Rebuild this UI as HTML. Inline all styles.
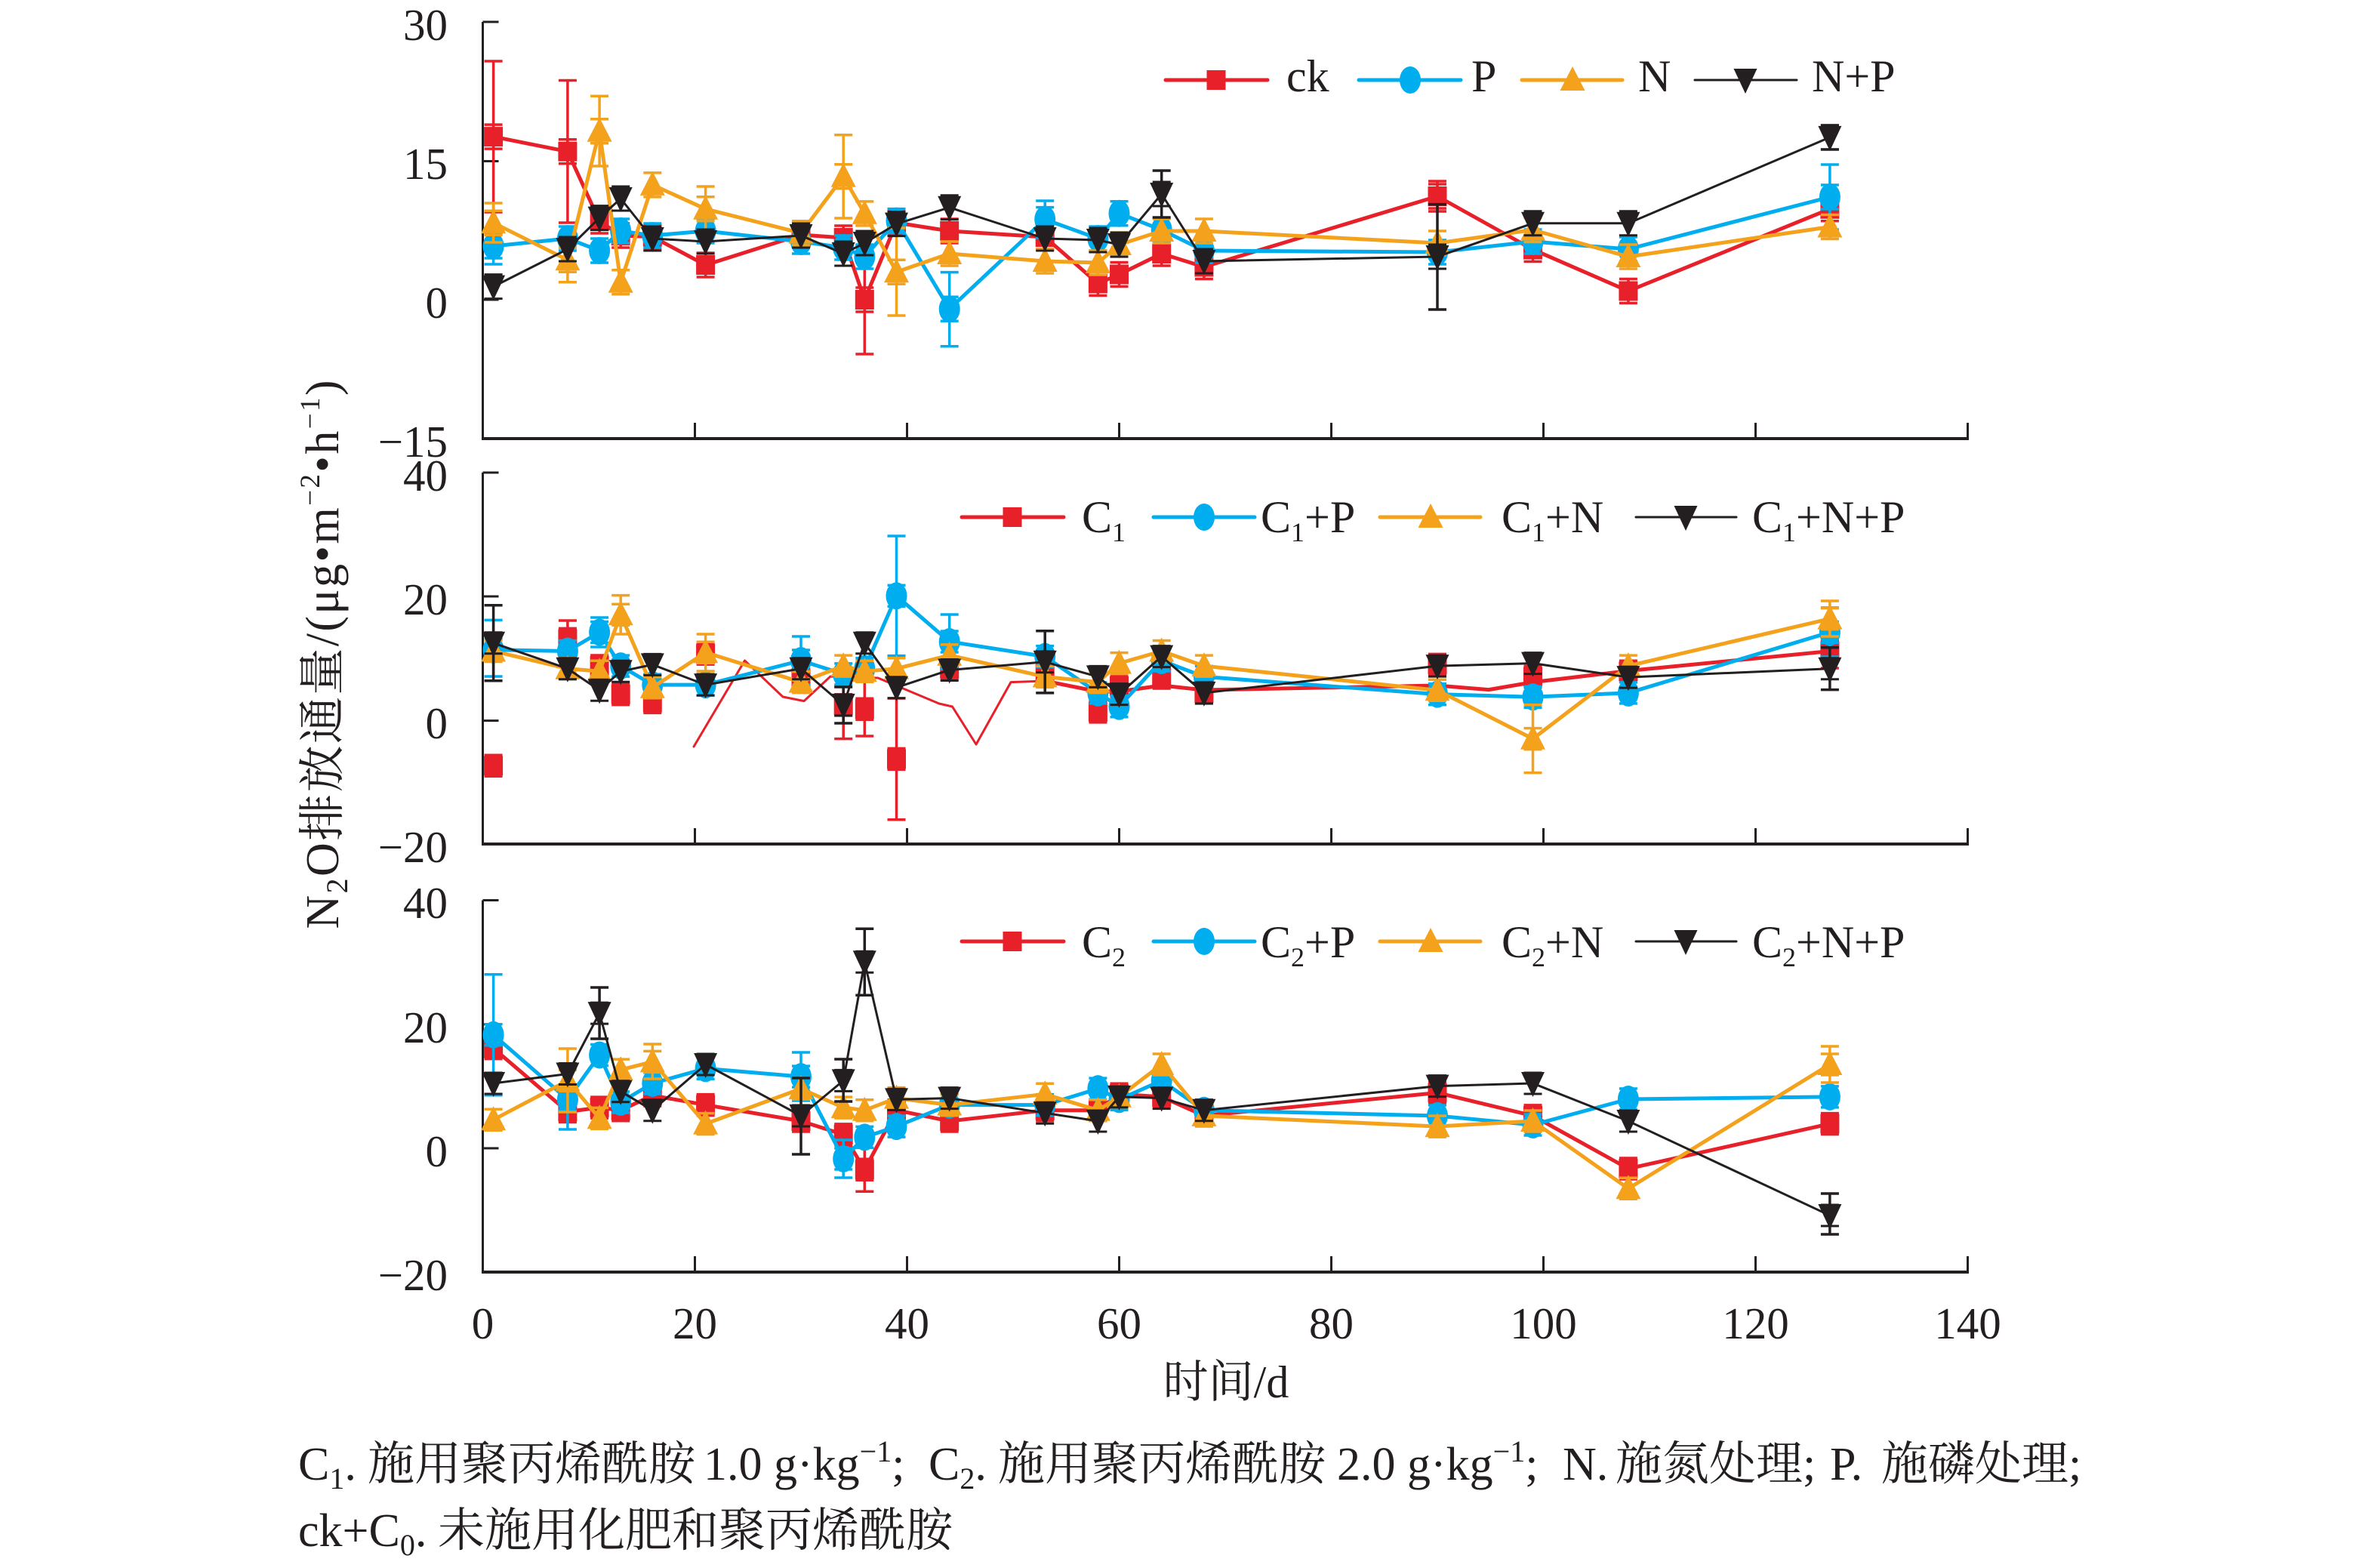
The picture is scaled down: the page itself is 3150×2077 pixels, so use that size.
<!DOCTYPE html>
<html><head><meta charset="utf-8"><style>
html,body{margin:0;padding:0;background:#fff;}
svg{display:block;}
text{font-family:"Liberation Serif","Noto Serif CJK SC",serif;fill:#231f20;}
.t{font-size:59px;}
.lg{font-size:60px;}
.ax{stroke:#231f20;fill:none;}
.n{fill:none;stroke:none;}
.l{fill:none;stroke-linejoin:round;stroke-linecap:round;}
.r{stroke:#e8202a;stroke-width:5;}
.b{stroke:#00aeef;stroke-width:5;}
.o{stroke:#f4a11c;stroke-width:5;}
.k{stroke:#231f20;stroke-width:3;}
.eb{fill:none;stroke-width:3.5;}
</style></head><body>
<svg width="3150" height="2077" viewBox="0 0 3150 2077" xmlns="http://www.w3.org/2000/svg">
<defs>
<marker id="mS" markerUnits="userSpaceOnUse" markerWidth="60" markerHeight="60" refX="30" refY="30"><rect x="17.5" y="17" width="25" height="26" fill="#e8202a"/></marker>
<marker id="mC" markerUnits="userSpaceOnUse" markerWidth="60" markerHeight="60" refX="30" refY="30"><ellipse cx="30" cy="30" rx="14" ry="18" fill="#00aeef"/></marker>
<marker id="mU" markerUnits="userSpaceOnUse" markerWidth="60" markerHeight="60" refX="30" refY="30"><polygon points="30,12 46.5,44 13.5,44" fill="#f4a11c"/></marker>
<marker id="mD" markerUnits="userSpaceOnUse" markerWidth="60" markerHeight="60" refX="30" refY="30"><polygon points="14.5,15 45.5,15 30,48" fill="#231f20"/></marker>
<marker id="eR16" markerUnits="userSpaceOnUse" markerWidth="60" markerHeight="60" refX="30" refY="30"><path d="M30,14V46M18,14H42M18,46H42" stroke="#e8202a" stroke-width="3.5" fill="none"/></marker>
<marker id="eB16" markerUnits="userSpaceOnUse" markerWidth="60" markerHeight="60" refX="30" refY="30"><path d="M30,14V46M18,14H42M18,46H42" stroke="#00aeef" stroke-width="3.5" fill="none"/></marker>
<marker id="eO16" markerUnits="userSpaceOnUse" markerWidth="60" markerHeight="60" refX="30" refY="30"><path d="M30,14V46M18,14H42M18,46H42" stroke="#f4a11c" stroke-width="3.5" fill="none"/></marker>
<marker id="eK16" markerUnits="userSpaceOnUse" markerWidth="60" markerHeight="60" refX="30" refY="30"><path d="M30,14V46M18,14H42M18,46H42" stroke="#231f20" stroke-width="3" fill="none"/></marker>
<marker id="eR14" markerUnits="userSpaceOnUse" markerWidth="60" markerHeight="60" refX="30" refY="30"><path d="M30,16V44M18,16H42M18,44H42" stroke="#e8202a" stroke-width="3.5" fill="none"/></marker>
<marker id="eB14" markerUnits="userSpaceOnUse" markerWidth="60" markerHeight="60" refX="30" refY="30"><path d="M30,16V44M18,16H42M18,44H42" stroke="#00aeef" stroke-width="3.5" fill="none"/></marker>
<marker id="eO14" markerUnits="userSpaceOnUse" markerWidth="60" markerHeight="60" refX="30" refY="30"><path d="M30,16V44M18,16H42M18,44H42" stroke="#f4a11c" stroke-width="3.5" fill="none"/></marker>
<marker id="eK14" markerUnits="userSpaceOnUse" markerWidth="60" markerHeight="60" refX="30" refY="30"><path d="M30,16V44M18,16H42M18,44H42" stroke="#231f20" stroke-width="3" fill="none"/></marker>
</defs>
<rect x="0" y="0" width="3150" height="2077" fill="#fff"/>

<!-- ===== AXES ===== -->
<g class="ax">
<path d="M639.5,29V581" stroke-width="3"/>
<path d="M638,581H2606.5" stroke-width="4"/>
<path d="M639.5,29h21M639.5,213.5h21M639.5,397h21" stroke-width="3"/>
<path d="M920.5,581v-21M1201.5,581v-21M1482.5,581v-21M1763.5,581v-21M2044.5,581v-21M2325.5,581v-21M2606.5,583v-23" stroke-width="3"/>

<path d="M639.5,626V1118" stroke-width="3"/>
<path d="M638,1118H2606.5" stroke-width="4"/>
<path d="M639.5,626h21M639.5,790h21M639.5,954.6h21" stroke-width="3"/>
<path d="M920.5,1118v-21M1201.5,1118v-21M1482.5,1118v-21M1763.5,1118v-21M2044.5,1118v-21M2325.5,1118v-21M2606.5,1120v-23" stroke-width="3"/>

<path d="M639.5,1192.5V1685" stroke-width="3"/>
<path d="M638,1685H2606.5" stroke-width="4"/>
<path d="M639.5,1192.5h21M639.5,1357h21M639.5,1521h21" stroke-width="3"/>
<path d="M920.5,1685v-21M1201.5,1685v-21M1482.5,1685v-21M1763.5,1685v-21M2044.5,1685v-21M2325.5,1685v-21M2606.5,1687v-23" stroke-width="3"/>
</g>

<!-- y tick labels -->
<g class="t" text-anchor="end">
<text x="593" y="53">30</text>
<text x="593" y="237">15</text>
<text x="593" y="421">0</text>
<text x="593" y="605">−15</text>
<text x="593" y="650">40</text>
<text x="593" y="814">20</text>
<text x="593" y="978">0</text>
<text x="593" y="1142">−20</text>
<text x="593" y="1216">40</text>
<text x="593" y="1381">20</text>
<text x="593" y="1545">0</text>
<text x="593" y="1709">−20</text>
</g>
<!-- x tick labels -->
<g class="t" text-anchor="middle">
<text x="639.5" y="1773">0</text>
<text x="920.5" y="1773">20</text>
<text x="1201.5" y="1773">40</text>
<text x="1482.5" y="1773">60</text>
<text x="1763.5" y="1773">80</text>
<text x="2044.5" y="1773">100</text>
<text x="2325.5" y="1773">120</text>
<text x="2606.5" y="1773">140</text>
</g>

<!-- axis titles -->
<text transform="translate(448,867) rotate(-90)" text-anchor="middle" font-size="62" textLength="727" lengthAdjust="spacing">N<tspan font-size="40" dy="12">2</tspan><tspan dy="-12">O排放通量/(μg•m</tspan><tspan font-size="37" dy="-25">−2</tspan><tspan dy="25">•h</tspan><tspan font-size="37" dy="-25">−1</tspan><tspan dy="25">)</tspan></text>
<text x="1624" y="1851" text-anchor="middle" font-size="60">时间/d</text>

<!-- ===== TOP PANEL DATA ===== -->
<polyline class="n" marker-start="url(#eR16)" marker-mid="url(#eR16)" marker-end="url(#eR16)" points="653.6,181.1 751.9,200.7 794.1,293 822.2,312 864.3,313.6 934.6,351 1061,311 1117.2,315 1145.3,397 1187.5,295 1257.7,306 1384.2,314 1454.4,375.5 1482.5,363.5 1538.7,336 1594.9,353.5 1904,260 2030.5,330.5 2156.9,385.5 2423.9,276.8"/>
<path class="eb" stroke="#e8202a" d="M653.6,81V281M641.6,81H665.6M641.6,281H665.6M751.9,106.5V295M739.9,106.5H763.9M739.9,295H763.9M1145.3,325V469M1133.3,325H1157.3M1133.3,469H1157.3M1904,240V280M1892,240H1916M1892,280H1916"/>
<polyline class="l r" marker-start="url(#mS)" marker-mid="url(#mS)" marker-end="url(#mS)" points="653.6,181.1 751.9,200.7 794.1,293 822.2,312 864.3,313.6 934.6,351 1061,311 1117.2,315 1145.3,397 1187.5,295 1257.7,306 1384.2,314 1454.4,375.5 1482.5,363.5 1538.7,336 1594.9,353.5 1904,260 2030.5,330.5 2156.9,385.5 2423.9,276.8"/>

<polyline class="n" marker-start="url(#eB16)" marker-mid="url(#eB16)" marker-end="url(#eB16)" points="653.6,326 751.9,316 794.1,332 822.2,306 864.3,312 934.6,306 1061,320 1117.2,328 1145.3,340 1187.5,292.6 1257.7,409.3 1384.2,290.6 1454.4,316 1482.5,282.7 1538.7,304.5 1594.9,332 1904,334 2030.5,320 2156.9,330 2423.9,261"/>
<path class="eb" stroke="#00aeef" d="M1257.7,360.6V458.7M1245.7,360.6H1269.7M1245.7,458.7H1269.7M2423.9,218V304M2411.9,218H2435.9M2411.9,304H2435.9M653.6,302V350M641.6,302H665.6M641.6,350H665.6M1384.2,266V315M1372.2,266H1396.2M1372.2,315H1396.2"/>
<polyline class="l b" marker-start="url(#mC)" marker-mid="url(#mC)" marker-end="url(#mC)" points="653.6,326 751.9,316 794.1,332 822.2,306 864.3,312 934.6,306 1061,320 1117.2,328 1145.3,340 1187.5,292.6 1257.7,409.3 1384.2,290.6 1454.4,316 1482.5,282.7 1538.7,304.5 1594.9,332 1904,334 2030.5,320 2156.9,330 2423.9,261"/>

<polyline class="n" marker-start="url(#eO16)" marker-mid="url(#eO16)" marker-end="url(#eO16)" points="653.6,295.2 751.9,344.3 794.1,173.7 822.2,373.7 864.3,244.9 934.6,276.8 1061,308.7 1117.2,233.8 1145.3,282.9 1187.5,360.2 1257.7,336 1384.2,346 1454.4,348 1482.5,324 1538.7,306 1594.9,306 1904,322 2030.5,304.5 2156.9,340 2423.9,300.5"/>
<path class="eb" stroke="#f4a11c" d="M794.1,127.3V220M782.1,127.3H806.1M782.1,220H806.1M1117.2,178.7V289M1105.2,178.7H1129.2M1105.2,289H1129.2M1187.5,302V418M1175.5,302H1199.5M1175.5,418H1199.5M653.6,269V321M641.6,269H665.6M641.6,321H665.6M751.9,315V373.7M739.9,315H763.9M739.9,373.7H763.9M934.6,247V307M922.6,247H946.6M922.6,307H946.6"/>
<polyline class="l o" marker-start="url(#mU)" marker-mid="url(#mU)" marker-end="url(#mU)" points="653.6,295.2 751.9,344.3 794.1,173.7 822.2,373.7 864.3,244.9 934.6,276.8 1061,308.7 1117.2,233.8 1145.3,282.9 1187.5,360.2 1257.7,336 1384.2,346 1454.4,348 1482.5,324 1538.7,306 1594.9,306 1904,322 2030.5,304.5 2156.9,340 2423.9,300.5"/>

<polyline class="n" marker-start="url(#eK16)" marker-mid="url(#eK16)" marker-end="url(#eK16)" points="653.6,379.6 751.9,330 794.1,288.6 822.2,263 864.3,316 934.6,320 1061,312 1117.2,336 1145.3,322 1187.5,296.6 1257.7,274.8 1384.2,316 1454.4,318 1482.5,324 1538.7,257 1594.9,346 1904,340 2030.5,295.8 2156.9,295.8 2423.9,181.9"/>
<path class="eb" stroke="#231f20" stroke-width="3" d="M1538.7,226V288M1526.7,226H1550.7M1526.7,288H1550.7M1904,270.6V410M1892,270.6H1916M1892,410H1916M2423.9,166V198M2411.9,166H2435.9M2411.9,198H2435.9"/>
<polyline class="l k" marker-start="url(#mD)" marker-mid="url(#mD)" marker-end="url(#mD)" points="653.6,379.6 751.9,330 794.1,288.6 822.2,263 864.3,316 934.6,320 1061,312 1117.2,336 1145.3,322 1187.5,296.6 1257.7,274.8 1384.2,316 1454.4,318 1482.5,324 1538.7,257 1594.9,346 1904,340 2030.5,295.8 2156.9,295.8 2423.9,181.9"/>

<!-- top legend -->
<path class="l r" d="M1544,106H1679"/>
<rect x="1598.5" y="93" width="25" height="26" fill="#e8202a"/>
<text class="lg" x="1704" y="121">ck</text>
<path class="l b" d="M1800,106H1935"/><ellipse cx="1868" cy="106" rx="14" ry="18" fill="#00aeef"/>
<text class="lg" x="1949" y="121">P</text>
<path class="l o" d="M2016,106H2149"/><polygon points="2083,88 2099.5,120 2066.5,120" fill="#f4a11c"/>
<text class="lg" x="2170" y="121">N</text>
<path class="l k" d="M2245,106H2380"/><polygon points="2296.5,91 2327.5,91 2312,124" fill="#231f20"/>
<text class="lg" x="2400" y="121">N+P</text>

<!-- ===== MIDDLE PANEL DATA ===== -->
<polyline class="n" marker-start="url(#eR14)" marker-mid="url(#eR14)" marker-end="url(#eR14)" points="653.6,1014.3 751.9,846.4 794.1,882 822.2,919.6 864.3,930.4 934.6,866.1 1061,898.2 1117.2,933.9 1145.3,939.3 1187.5,1005.4 1257.7,885.7 1384.2,892.9 1454.4,942.9 1482.5,909 1538.7,898 1594.9,917.9 1904,880.4 2030.5,896.4 2156.9,889.3 2423.9,862.5"/>
<path class="eb" stroke="#e8202a" d="M1187.5,925V1085.7M1175.5,925H1199.5M1175.5,1085.7H1199.5M1117.2,889V978.6M1105.2,889H1129.2M1105.2,978.6H1129.2M1145.3,903V975M1133.3,903H1157.3M1133.3,975H1157.3M751.9,822V870M739.9,822H763.9M739.9,870H763.9M2423.9,840V885M2411.9,840H2435.9M2411.9,885H2435.9"/>
<polyline class="l" stroke="#e8202a" stroke-width="3" points="919,989 986.5,875 1037,923 1065,928.6 1100,896 1163,898 1244,932 1261.5,936 1293,986 1339,903.6 1384,902"/>
<polyline class="l r" points="1384,902 1454,916 1482,916 1538.7,908 1594.9,914 1904,908 1972,913.6 2030.5,903.6 2156.9,888.6 2423.9,862.5"/>
<polyline class="n" marker-start="url(#mS)" marker-mid="url(#mS)" marker-end="url(#mS)" points="653.6,1014.3 751.9,846.4 794.1,882 822.2,919.6 864.3,930.4 934.6,866.1 1061,898.2 1117.2,933.9 1145.3,939.3 1187.5,1005.4 1257.7,885.7 1384.2,892.9 1454.4,942.9 1482.5,909 1538.7,898 1594.9,917.9 1904,880.4 2030.5,896.4 2156.9,889.3 2423.9,862.5"/>

<polyline class="n" marker-start="url(#eB14)" marker-mid="url(#eB14)" marker-end="url(#eB14)" points="653.6,860.7 751.9,862.5 794.1,837.5 822.2,882.1 864.3,907.1 934.6,907.1 1061,875 1117.2,892.9 1145.3,885.7 1187.5,789.3 1257.7,850 1384.2,869.6 1454.4,917.9 1482.5,935.7 1538.7,875 1594.9,896.4 1904,919.6 2030.5,923.2 2156.9,917.9 2423.9,837.5"/>
<path class="eb" stroke="#00aeef" d="M1187.5,710V868.6M1175.5,710H1199.5M1175.5,868.6H1199.5M1257.7,814V886M1245.7,814H1269.7M1245.7,886H1269.7M653.6,821.4V896M641.6,821.4H665.6M641.6,896H665.6M1061,843V907M1049,843H1073M1049,907H1073M794.1,818V857M782.1,818H806.1M782.1,857H806.1M2423.9,805V870M2411.9,805H2435.9M2411.9,870H2435.9"/>
<polyline class="l b" marker-start="url(#mC)" marker-mid="url(#mC)" marker-end="url(#mC)" points="653.6,860.7 751.9,862.5 794.1,837.5 822.2,882.1 864.3,907.1 934.6,907.1 1061,875 1117.2,892.9 1145.3,885.7 1187.5,789.3 1257.7,850 1384.2,869.6 1454.4,917.9 1482.5,935.7 1538.7,875 1594.9,896.4 1904,919.6 2030.5,923.2 2156.9,917.9 2423.9,837.5"/>

<polyline class="n" marker-start="url(#eO14)" marker-mid="url(#eO14)" marker-end="url(#eO14)" points="653.6,862.5 751.9,885.7 794.1,889.3 822.2,814.3 864.3,910.7 934.6,864.3 1061,903.6 1117.2,882.1 1145.3,889.3 1187.5,885.7 1257.7,867.9 1384.2,896.4 1454.4,903.6 1482.5,878.6 1538.7,862.5 1594.9,882.1 1904,914.3 2030.5,978.6 2156.9,882.1 2423.9,819.6"/>
<path class="eb" stroke="#f4a11c" d="M2030.5,933.6V1023.6M2018.5,933.6H2042.5M2018.5,1023.6H2042.5M822.2,788.6V840M810.2,788.6H834.2M810.2,840H834.2M2423.9,796V843M2411.9,796H2435.9M2411.9,843H2435.9M934.6,840V889M922.6,840H946.6M922.6,889H946.6"/>
<polyline class="l o" marker-start="url(#mU)" marker-mid="url(#mU)" marker-end="url(#mU)" points="653.6,862.5 751.9,885.7 794.1,889.3 822.2,814.3 864.3,910.7 934.6,864.3 1061,903.6 1117.2,882.1 1145.3,889.3 1187.5,885.7 1257.7,867.9 1384.2,896.4 1454.4,903.6 1482.5,878.6 1538.7,862.5 1594.9,882.1 1904,914.3 2030.5,978.6 2156.9,882.1 2423.9,819.6"/>

<polyline class="n" marker-start="url(#eK14)" marker-mid="url(#eK14)" marker-end="url(#eK14)" points="653.6,851.8 751.9,885.7 794.1,914.3 822.2,889.3 864.3,880.4 934.6,907.1 1061,885.7 1117.2,933.9 1145.3,851.8 1187.5,910.7 1257.7,887.5 1384.2,876.8 1454.4,896.4 1482.5,919.6 1538.7,869.6 1594.9,917.9 1904,882.1 2030.5,878.6 2156.9,897.1 2423.9,885.7"/>
<path class="eb" stroke="#231f20" stroke-width="3" d="M653.6,801.8V901.8M641.6,801.8H665.6M641.6,901.8H665.6M1384.2,835.7V917.9M1372.2,835.7H1396.2M1372.2,917.9H1396.2M2423.9,857.7V913.6M2411.9,857.7H2435.9M2411.9,913.6H2435.9M1117.2,910V958M1105.2,910H1129.2M1105.2,958H1129.2"/>
<polyline class="l k" marker-start="url(#mD)" marker-mid="url(#mD)" marker-end="url(#mD)" points="653.6,851.8 751.9,885.7 794.1,914.3 822.2,889.3 864.3,880.4 934.6,907.1 1061,885.7 1117.2,933.9 1145.3,851.8 1187.5,910.7 1257.7,887.5 1384.2,876.8 1454.4,896.4 1482.5,919.6 1538.7,869.6 1594.9,917.9 1904,882.1 2030.5,878.6 2156.9,897.1 2423.9,885.7"/>

<!-- middle legend -->
<path class="l r" d="M1274,685H1409"/><rect x="1328.5" y="672" width="25" height="26" fill="#e8202a"/>
<text class="lg" x="1433" y="705">C<tspan font-size="36" dy="12">1</tspan></text>
<path class="l b" d="M1528,685H1662"/><ellipse cx="1595" cy="685" rx="14" ry="18" fill="#00aeef"/>
<text class="lg" x="1670" y="705">C<tspan font-size="36" dy="12">1</tspan><tspan dy="-12">+P</tspan></text>
<path class="l o" d="M1828,685H1961"/><polygon points="1895,667 1911.5,699 1878.5,699" fill="#f4a11c"/>
<text class="lg" x="1989" y="705">C<tspan font-size="36" dy="12">1</tspan><tspan dy="-12">+N</tspan></text>
<path class="l k" d="M2167,685H2300"/><polygon points="2217.5,670 2248.5,670 2233,703" fill="#231f20"/>
<text class="lg" x="2321" y="705">C<tspan font-size="36" dy="12">1</tspan><tspan dy="-12">+N+P</tspan></text>

<!-- ===== BOTTOM PANEL DATA ===== -->
<polyline class="n" marker-start="url(#eR14)" marker-mid="url(#eR14)" marker-end="url(#eR14)" points="653.6,1388.6 751.9,1472.5 794.1,1467.1 822.2,1470.7 864.3,1451.1 934.6,1463.6 1061,1485 1117.2,1502.9 1145.3,1549.3 1187.5,1470.7 1257.7,1485 1384.2,1470.7 1454.4,1470.7 1482.5,1449.3 1538.7,1452.9 1594.9,1477.9 1904,1447.5 2030.5,1477.9 2156.9,1548 2423.9,1488.6"/>
<path class="eb" stroke="#e8202a" d="M1145.3,1520.3V1578.3M1133.3,1520.3H1157.3M1133.3,1578.3H1157.3"/>
<polyline class="l r" marker-start="url(#mS)" marker-mid="url(#mS)" marker-end="url(#mS)" points="653.6,1388.6 751.9,1472.5 794.1,1467.1 822.2,1470.7 864.3,1451.1 934.6,1463.6 1061,1485 1117.2,1502.9 1145.3,1549.3 1187.5,1470.7 1257.7,1485 1384.2,1470.7 1454.4,1470.7 1482.5,1449.3 1538.7,1452.9 1594.9,1477.9 1904,1447.5 2030.5,1477.9 2156.9,1548 2423.9,1488.6"/>

<polyline class="n" marker-start="url(#eB14)" marker-mid="url(#eB14)" marker-end="url(#eB14)" points="653.6,1370.7 751.9,1456.4 794.1,1397.5 822.2,1460 864.3,1435 934.6,1415.4 1061,1426.1 1117.2,1535 1145.3,1506.4 1187.5,1492.1 1257.7,1463.6 1384.2,1463.6 1454.4,1442.1 1482.5,1456.4 1538.7,1431.4 1594.9,1470.7 1904,1478 2030.5,1490 2156.9,1456 2423.9,1452.9"/>
<path class="eb" stroke="#00aeef" d="M653.6,1290.7V1450.7M641.6,1290.7H665.6M641.6,1450.7H665.6M1117.2,1510V1560M1105.2,1510H1129.2M1105.2,1560H1129.2M1061,1394V1458M1049,1394H1073M1049,1458H1073M751.9,1416V1496M739.9,1416H763.9M739.9,1496H763.9"/>
<polyline class="l b" marker-start="url(#mC)" marker-mid="url(#mC)" marker-end="url(#mC)" points="653.6,1370.7 751.9,1456.4 794.1,1397.5 822.2,1460 864.3,1435 934.6,1415.4 1061,1426.1 1117.2,1535 1145.3,1506.4 1187.5,1492.1 1257.7,1463.6 1384.2,1463.6 1454.4,1442.1 1482.5,1456.4 1538.7,1431.4 1594.9,1470.7 1904,1478 2030.5,1490 2156.9,1456 2423.9,1452.9"/>

<polyline class="n" marker-start="url(#eO14)" marker-mid="url(#eO14)" marker-end="url(#eO14)" points="653.6,1483.2 751.9,1431.4 794.1,1481.4 822.2,1417.1 864.3,1406.4 934.6,1488.6 1061,1442.1 1117.2,1467.1 1145.3,1470.7 1187.5,1454.6 1257.7,1463.6 1384.2,1449.3 1454.4,1470.7 1482.5,1452.9 1538.7,1410 1594.9,1477.9 1904,1492.1 2030.5,1485 2156.9,1574.3 2423.9,1410"/>
<path class="eb" stroke="#f4a11c" d="M751.9,1389V1473M739.9,1389H763.9M739.9,1473H763.9M864.3,1383V1429M852.3,1383H876.3M852.3,1429H876.3M2423.9,1386V1434M2411.9,1386H2435.9M2411.9,1434H2435.9"/>
<polyline class="l o" marker-start="url(#mU)" marker-mid="url(#mU)" marker-end="url(#mU)" points="653.6,1483.2 751.9,1431.4 794.1,1481.4 822.2,1417.1 864.3,1406.4 934.6,1488.6 1061,1442.1 1117.2,1467.1 1145.3,1470.7 1187.5,1454.6 1257.7,1463.6 1384.2,1449.3 1454.4,1470.7 1482.5,1452.9 1538.7,1410 1594.9,1477.9 1904,1492.1 2030.5,1485 2156.9,1574.3 2423.9,1410"/>

<polyline class="n" marker-start="url(#eK14)" marker-mid="url(#eK14)" marker-end="url(#eK14)" points="653.6,1435 751.9,1422.5 794.1,1342.1 822.2,1445.7 864.3,1470.7 934.6,1410 1061,1478 1117.2,1431.4 1145.3,1274.3 1187.5,1456.4 1257.7,1454.6 1384.2,1474.3 1454.4,1485 1482.5,1452.9 1538.7,1454.6 1594.9,1470.7 1904,1438.6 2030.5,1435 2156.9,1485 2423.9,1610"/>
<path class="eb" stroke="#231f20" stroke-width="3" d="M794.1,1308V1376M782.1,1308H806.1M782.1,1376H806.1M1061,1428V1529M1049,1428H1073M1049,1529H1073M1145.3,1230.3V1318.3M1133.3,1230.3H1157.3M1133.3,1318.3H1157.3M1117.2,1403V1459M1105.2,1403H1129.2M1105.2,1459H1129.2M2423.9,1581V1635M2411.9,1581H2435.9M2411.9,1635H2435.9"/>
<polyline class="l k" marker-start="url(#mD)" marker-mid="url(#mD)" marker-end="url(#mD)" points="653.6,1435 751.9,1422.5 794.1,1342.1 822.2,1445.7 864.3,1470.7 934.6,1410 1061,1478 1117.2,1431.4 1145.3,1274.3 1187.5,1456.4 1257.7,1454.6 1384.2,1474.3 1454.4,1485 1482.5,1452.9 1538.7,1454.6 1594.9,1470.7 1904,1438.6 2030.5,1435 2156.9,1485 2423.9,1610"/>

<!-- bottom legend -->
<path class="l r" d="M1274,1247H1409"/><rect x="1328.5" y="1234" width="25" height="26" fill="#e8202a"/>
<text class="lg" x="1433" y="1268">C<tspan font-size="36" dy="12">2</tspan></text>
<path class="l b" d="M1528,1247H1662"/><ellipse cx="1595" cy="1247" rx="14" ry="18" fill="#00aeef"/>
<text class="lg" x="1670" y="1268">C<tspan font-size="36" dy="12">2</tspan><tspan dy="-12">+P</tspan></text>
<path class="l o" d="M1828,1247H1961"/><polygon points="1895,1229 1911.5,1261 1878.5,1261" fill="#f4a11c"/>
<text class="lg" x="1989" y="1268">C<tspan font-size="36" dy="12">2</tspan><tspan dy="-12">+N</tspan></text>
<path class="l k" d="M2167,1247H2300"/><polygon points="2217.5,1232 2248.5,1232 2233,1265" fill="#231f20"/>
<text class="lg" x="2321" y="1268">C<tspan font-size="36" dy="12">2</tspan><tspan dy="-12">+N+P</tspan></text>

<!-- ===== CAPTION ===== -->
<g font-size="62">
<text x="395" y="1960">C<tspan font-size="40" dy="12">1</tspan><tspan dy="-12">.</tspan></text>
<text x="487" y="1960">施用聚丙烯酰胺</text>
<text x="932" y="1960">1.0</text>
<text x="1025" y="1960">g·kg<tspan font-size="40" dy="-24">−1</tspan><tspan dy="24">;</tspan></text>
<text x="1230" y="1960">C<tspan font-size="40" dy="12">2</tspan><tspan dy="-12">.</tspan></text>
<text x="1322" y="1960">施用聚丙烯酰胺</text>
<text x="1771" y="1960">2.0</text>
<text x="1864" y="1960">g·kg<tspan font-size="40" dy="-24">−1</tspan><tspan dy="24">;</tspan></text>
<text x="2070" y="1960">N.</text>
<text x="2140" y="1960">施氮处理;</text>
<text x="2424" y="1960">P.</text>
<text x="2492" y="1960">施磷处理;</text>
<text x="395" y="2048">ck+C<tspan font-size="40" dy="12">0</tspan><tspan dy="-12">.</tspan></text>
<text x="580" y="2048">未施用化肥和聚丙烯酰胺</text>
</g>
</svg>
</body></html>
